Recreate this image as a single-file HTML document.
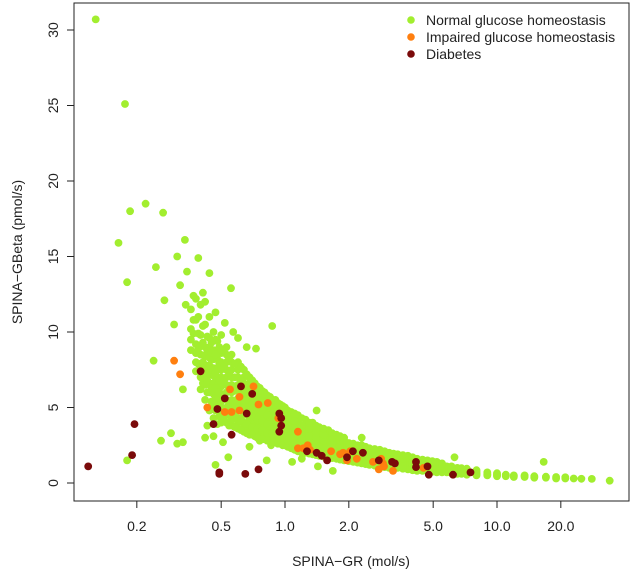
<!DOCTYPE html>
<html><head><meta charset="utf-8"><style>
body{margin:0;background:#fff}
svg{display:block;font-family:"Liberation Sans",Arial,sans-serif}
</style></head><body>
<svg id="chart" width="633" height="578">
<rect x="74" y="3" width="555" height="498" fill="none" stroke="#222" stroke-width="1"/>
<g id="points"></g>
<g id="axes"></g>
<text x="351" y="566" font-size="14" text-anchor="middle" fill="#222">SPINA−GR (mol/s)</text>
<text transform="translate(22,252) rotate(-90)" font-size="14" text-anchor="middle" fill="#222">SPINA−GBeta (pmol/s)</text>
<g>
<circle cx="411" cy="20" r="3.8" fill="#A2EE2F"/>
<text x="426" y="25" font-size="14" fill="#222">Normal glucose homeostasis</text>
<circle cx="411" cy="37" r="3.8" fill="#FF7F0F"/>
<text x="426" y="42" font-size="14" fill="#222">Impaired glucose homeostasis</text>
<circle cx="411" cy="54" r="3.8" fill="#7A0A0A"/>
<text x="426" y="59" font-size="14" fill="#222">Diabetes</text>
</g>
</svg>
<script>
const xTicks=[0.2,0.5,1.0,2.0,5.0,10.0,20.0];
const xTickLabels=["0.2","0.5","1.0","2.0","5.0","10.0","20.0"];
const yTicks=[0,5,10,15,20,25,30];
const yTickLabels=["0","5","10","15","20","25","30"];
const normalOutliers=[[0.128,30.7],[0.176,25.1],[0.186,18.0],[0.22,18.5],[0.266,17.9],[0.164,15.9],[0.18,13.3],[0.246,14.3],[0.337,16.1],[0.31,15.0],[0.39,14.9],[0.44,13.9],[0.556,12.9],[0.345,14.0],[0.27,12.1],[0.32,13.1],[0.87,10.4],[0.24,8.1],[0.18,1.5],[0.26,2.8],[0.29,3.3],[0.31,2.6],[0.33,2.7],[0.33,6.2],[0.47,1.2],[0.54,1.7],[0.42,3.0],[0.46,3.1],[0.51,2.7],[0.43,3.8],[0.76,2.8],[0.68,2.4],[0.86,2.5],[0.82,1.5],[1.08,1.4],[1.2,1.6],[1.43,1.1],[1.68,0.8],[1.41,4.8],[0.73,8.9],[2.3,3.0],[6.3,1.7],[16.6,1.4],[34,0.15],[0.3,10.5],[0.34,11.8],[0.37,12.4],[0.41,12.6],[0.47,11.3],[0.52,10.6],[0.6,9.6],[0.66,9.0],[0.57,10.0]];
const normalBandX=[0.36,0.38,0.40,0.42,0.44,0.46,0.48,0.50,0.53,0.56,0.60,0.64,0.68,0.72,0.76,0.80,0.85,0.90,0.95,1.0,1.07,1.15,1.25,1.35,1.45,1.6,1.75,1.9,2.1,2.3,2.5,2.8,3.1,3.4,3.8,4.2,4.7,5.2,5.8,6.5,7.2,8.0,9.0,10,11,12,13.5,15,17,19,21,23,25,28];
const normalBandY=[
[9.5,8.8,10.2,11.5],[8.0,9.2,10.8,12.2,7.4,8.6],[7.0,8.5,9.8,11.8,6.2,7.7,9.1],[6.5,7.8,9.0,10.5,5.5,12.0,7.1,8.4],
[6.0,7.2,8.3,9.6,11.0,4.8,6.6,7.8,9.0],[5.2,6.6,7.6,8.8,10.0,4.3,5.9,7.1,8.2],[4.8,5.8,7.0,8.2,9.4,3.9,5.3,6.4,7.6,8.8],
[4.5,5.4,6.4,7.5,8.6,9.8,4.0,5.0,5.9,7.0,8.0],[4.0,5.0,6.0,7.0,8.0,9.0,4.5,5.5,6.5,7.5,8.5],[3.8,4.6,5.5,6.5,7.5,8.5,4.2,5.0,6.0,7.0,8.0],
[3.6,4.3,5.2,6.1,7.0,8.0,4.0,4.8,5.6,6.5,7.5],[3.4,4.0,4.9,5.7,6.6,7.5,3.7,4.5,5.3,6.1,7.0],[3.2,3.9,4.6,5.4,6.2,7.0,3.5,4.2,5.0,5.8,6.6],
[3.1,3.7,4.4,5.1,5.8,6.6,3.4,4.0,4.8,5.5,6.2],[3.0,3.5,4.2,4.8,5.5,6.3,3.3,3.9,4.5,5.2,5.9],[2.9,3.4,4.0,4.6,5.3,6.0,3.2,3.7,4.3,5.0,5.6],
[2.8,3.3,3.8,4.4,5.0,5.7,3.1,3.6,4.1,4.7,5.3],[2.7,3.1,3.6,4.2,4.8,5.5,2.9,3.4,3.9,4.5,5.1],[2.6,3.0,3.5,4.0,4.6,5.2,2.8,3.3,3.8,4.3,4.9],
[2.5,2.9,3.4,3.9,4.4,5.0,2.7,3.2,3.6,4.2,4.7],[2.3,2.7,3.2,3.7,4.2,4.7,2.5,3.0,3.5,3.9,4.4],[2.1,2.5,3.0,3.5,4.0,4.5,2.3,2.8,3.2,3.7,4.2],
[2.0,2.4,2.8,3.2,3.7,4.2,2.2,2.6,3.0,3.5,3.9],[1.9,2.3,2.7,3.1,3.5,4.0,2.1,2.5,2.9,3.3,3.7],[1.8,2.2,2.6,2.9,3.3,3.7,2.0,2.4,2.8,3.1,3.5],
[1.7,2.0,2.4,2.7,3.1,3.5,1.9,2.2,2.6,2.9,3.3],[1.6,1.9,2.2,2.5,2.9,3.2,1.75,2.05,2.4,2.7,3.05],[1.5,1.8,2.1,2.4,2.7,3.0,1.65,1.95,2.25,2.55,2.85],
[1.4,1.7,2.0,2.3,2.6,1.55,1.85,2.15,2.45],[1.3,1.6,1.9,2.2,2.5,1.45,1.75,2.05,2.35],[1.2,1.5,1.8,2.1,2.3,1.35,1.65,1.95],
[1.1,1.4,1.7,1.9,2.2,1.25,1.55,1.8,2.05],[1.0,1.3,1.5,1.8,2.0,1.15,1.4,1.65,1.9],[1.0,1.2,1.4,1.7,1.9,1.1,1.3,1.55,1.8],
[0.9,1.1,1.3,1.5,1.8,1.0,1.2,1.4,1.65],[0.8,1.0,1.2,1.4,1.6,0.9,1.1,1.3,1.5],[0.8,0.9,1.1,1.3,1.5,0.85,1.0,1.2,1.4],
[0.7,0.9,1.0,1.2,1.4,0.8,1.1,1.3],[0.7,0.8,0.95,1.1,0.75,0.9,1.05],[0.6,0.75,0.9,1.0,0.68,0.82],
[0.55,0.7,0.8,0.95,0.62,0.88],[0.5,0.65,0.75,0.85,0.58],[0.5,0.6,0.7,0.55],[0.45,0.55,0.65,0.5],
[0.45,0.55,0.5],[0.4,0.5,0.45],[0.4,0.5,0.45],[0.35,0.45,0.4],[0.35,0.42],[0.3,0.4],[0.3,0.38],[0.3],[0.28],[0.27]];
const normalFillX=[0.37,0.39,0.41,0.43,0.45,0.47,0.49,0.515,0.545,0.58,0.62,0.66,0.70,0.74,0.78,0.825,0.875,0.925,0.975,1.03,1.11,1.2,1.3,1.4,1.52,1.67,1.82,2.0,2.2,2.4,2.65,2.95,3.25,3.6,4.0,4.45,4.95,5.5,6.1,6.8];
const normalFillY=[
[9.9,10.8],[7.9,8.9,9.9,11.0],[6.6,7.3,8.0,9.3,10.4],[6.0,6.8,7.5,8.7,9.7],
[5.4,6.3,7.5,8.6,9.3],[4.8,5.6,6.3,7.3,8.5,9.5],[4.4,5.0,6.0,6.8,7.9,9.0],
[4.2,4.8,5.7,6.7,7.7,8.8],[3.8,4.6,5.3,6.3,7.3,8.3],[3.7,4.4,5.2,6.1,7.0,7.9],
[3.5,4.1,5.0,5.8,6.8,7.7],[3.3,3.9,4.7,5.5,6.3,7.2],[3.2,3.7,4.4,5.2,6.0,6.8],
[3.0,3.6,4.2,4.9,5.6,6.4],[2.9,3.5,4.1,4.7,5.4,6.1],[2.8,3.3,3.9,4.5,5.2,5.8],
[2.7,3.2,3.7,4.3,4.9,5.5],[2.6,3.1,3.6,4.1,4.7,5.3],[2.5,3.0,3.5,4.0,4.5,5.1],
[2.4,2.8,3.3,3.8,4.3,4.8],[2.2,2.6,3.1,3.6,4.1,4.6],[2.0,2.5,2.9,3.4,3.8,4.3],
[1.95,2.35,2.75,3.15,3.6,4.0],[1.85,2.25,2.6,3.0,3.4,3.8],[1.75,2.1,2.5,2.8,3.2,3.6],
[1.65,1.95,2.3,2.6,3.0,3.3],[1.55,1.85,2.15,2.45,2.8,3.1],[1.45,1.75,2.05,2.35,2.65],
[1.35,1.65,1.95,2.25,2.5],[1.25,1.55,1.85,2.15,2.4],[1.15,1.45,1.75,2.0,2.25],
[1.05,1.35,1.6,1.85,2.1],[1.0,1.25,1.5,1.75,1.95],[0.95,1.15,1.4,1.6,1.85],
[0.85,1.05,1.25,1.45,1.7],[0.8,1.0,1.15,1.35,1.55],[0.75,0.9,1.05,1.25,1.45],
[0.7,0.85,1.0,1.15,1.3],[0.65,0.8,0.95,1.1],[0.6,0.72,0.85,0.98]];
const impairedPts=[[0.30,8.1],[0.32,7.2],[0.43,5.0],[0.52,4.7],[0.56,4.7],[0.61,4.8],[0.55,6.2],[0.61,5.7],[0.71,6.4],[0.75,5.2],[0.83,5.3],[0.93,4.3],[1.15,3.4],[1.15,2.3],[1.22,2.3],[1.28,2.5],[1.31,2.2],[1.65,2.1],[1.82,1.9],[1.88,2.0],[2.03,2.1],[1.96,1.5],[2.18,1.6],[2.6,1.4],[2.84,1.6],[2.9,1.3],[2.93,1.1],[2.77,0.9],[3.23,0.8],[4.5,1.0]];
const diabetesPts=[[0.118,1.1],[0.19,1.85],[0.195,3.9],[0.40,7.4],[0.62,6.4],[0.70,5.9],[0.52,5.6],[0.48,4.9],[0.66,4.6],[0.46,3.9],[0.56,3.2],[0.49,0.7],[0.49,0.6],[0.65,0.6],[0.75,0.9],[0.94,4.6],[0.96,4.3],[0.96,3.8],[0.94,3.4],[1.27,2.1],[1.41,2.0],[1.49,1.8],[1.58,1.5],[1.96,1.7],[2.09,2.1],[2.33,2.0],[2.77,1.5],[3.2,1.4],[3.3,1.3],[4.15,1.4],[4.15,1.05],[4.7,1.1],[4.77,0.55],[6.2,0.55],[7.5,0.7]];

const NS="http://www.w3.org/2000/svg";
function xScale(v){return 285+212*Math.log10(v);}
function yScale(v){return 483-15.1*v;}
const pg=document.getElementById('points');
function dot(x,y,c,name){
  const el=document.createElementNS(NS,'circle');
  el.setAttribute('cx',xScale(x).toFixed(1));
  el.setAttribute('cy',yScale(y).toFixed(1));
  el.setAttribute('r','3.9');
  el.setAttribute('fill',c);
  
  
  pg.appendChild(el);
}
normalOutliers.forEach(p=>dot(p[0],p[1],'#A2EE2F','normal-point'));
normalBandX.forEach((x,i)=>normalBandY[i].forEach(y=>dot(x,y,'#A2EE2F','normal-point')));
normalFillX.forEach((x,i)=>normalFillY[i].forEach(y=>dot(x,y,'#A2EE2F','normal-point')));
impairedPts.forEach(p=>dot(p[0],p[1],'#FF7F0F','impaired-point'));
diabetesPts.forEach(p=>dot(p[0],p[1],'#7A0A0A','diabetes-point'));

const ag=document.getElementById('axes');
xTicks.forEach((t,i)=>{
  const x=xScale(t);
  const l=document.createElementNS(NS,'line');
  l.setAttribute('x1',x);l.setAttribute('x2',x);l.setAttribute('y1',501);l.setAttribute('y2',508);
  l.setAttribute('stroke','#222');
  
  
  ag.appendChild(l);
  const tx=document.createElementNS(NS,'text');
  tx.setAttribute('x',x);tx.setAttribute('y',531);tx.setAttribute('font-size','14');
  tx.setAttribute('text-anchor','middle');tx.setAttribute('fill','#222');
  tx.textContent=xTickLabels[i];
  
  
  ag.appendChild(tx);
});
yTicks.forEach((t,i)=>{
  const y=yScale(t);
  const l=document.createElementNS(NS,'line');
  l.setAttribute('x1',67);l.setAttribute('x2',74);l.setAttribute('y1',y);l.setAttribute('y2',y);
  l.setAttribute('stroke','#222');
  
  
  ag.appendChild(l);
  const tx=document.createElementNS(NS,'text');
  tx.setAttribute('transform','translate(58,'+y+') rotate(-90)');
  tx.setAttribute('font-size','14');
  tx.setAttribute('text-anchor','middle');tx.setAttribute('fill','#222');
  tx.textContent=yTickLabels[i];
  
  
  ag.appendChild(tx);
});
</script>
</body></html>
